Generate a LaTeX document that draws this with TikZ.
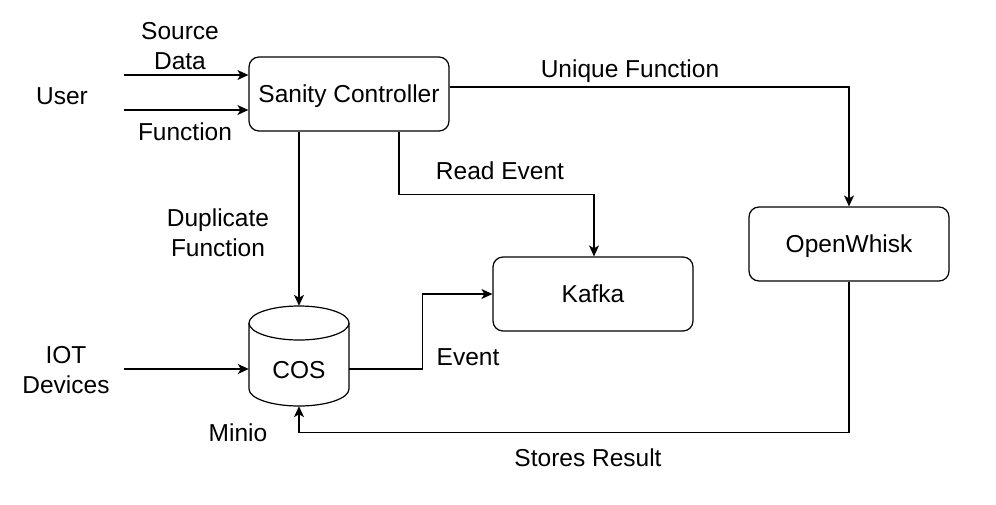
\documentclass[tikz,border=0pt]{standalone}
\usepackage{fontspec}
\setmainfont{Liberation Sans}
\usetikzlibrary{arrows.meta}
\begin{document}
\begin{tikzpicture}[x=1pt,y=-1pt,
  box/.style={draw, line width=1.2pt, rounded corners=10pt, minimum width=200pt, minimum height=74pt, inner sep=0pt, text height=17.5pt, text depth=0pt, font=\fontsize{24.5}{29}\selectfont},
  lbl/.style={font=\fontsize{24.5}{30}\selectfont, align=center, inner sep=0pt},
  conn/.style={line width=1.2pt, -{Stealth[length=11pt,width=10pt,inset=3pt]}},
  plain/.style={line width=1.2pt}]
\useasboundingbox (0,0) rectangle (996,504);
% nodes
\node[box] (sc) at (349,94) {Sanity Controller};
\node[box] (ow) at (849,244) {OpenWhisk};
\node[box] (kf) at (593,294) {Kafka};
% cylinder
\node[minimum width=100pt, minimum height=100pt, inner sep=0pt] (cos) at (299,356) {};
\fill[white] (249,323) rectangle (349,389);
\draw[line width=1.2pt, fill=white] (249,323) -- (249,389) arc[start angle=180, end angle=360, x radius=50pt, y radius=17pt] -- (349,323);
\draw[line width=1.2pt, fill=white] (299,323) ellipse [x radius=50pt, y radius=17pt];
\node[lbl] (costxt) at (299,370) {COS};
% free ends
\coordinate (u1) at (124,75);
\coordinate (u2) at (124,110);
\coordinate (iot) at (124,369);
% labels
\node[lbl] (user) at (62,96) {User};
\node[lbl] (src) at (180,46) {Source\\Data};
\node[lbl] (fn) at (185,132) {Function};
\node[lbl] (uf) at (630,71) {Unique Function};
\node[lbl] (re) at (500,171) {Read Event};
\node[lbl] (df) at (218,233) {Duplicate\\Function};
\node[lbl] (ev) at (468,357) {Event};
\node[lbl] (iotl) at (66,370) {IOT\\Devices};
\node[lbl] (mn) at (238,433) {Minio};
\node[lbl] (sr) at (588,458) {Stores Result};
% connectors
\draw[conn] (u1) -- (u1 -| sc.west);
\draw[conn] (u2) -- (u2 -| sc.west);
\draw[conn] ([yshift=7pt]sc.east) -| (ow.north);
\draw[conn] ([xshift=50pt]sc.south) |- ++(0,63) -| ([xshift=1pt]kf.north);
\draw[conn] ([xshift=-50pt]sc.south) -- (cos.north);
\draw[conn] (iot) -- (iot -| cos.west);
\draw[conn] ([yshift=-13pt]cos.east) -- ++(73,0) |- (kf.west);
\draw[conn] (ow.south) |- ++(0,151) -| (cos.south);
\end{tikzpicture}
\end{document}
